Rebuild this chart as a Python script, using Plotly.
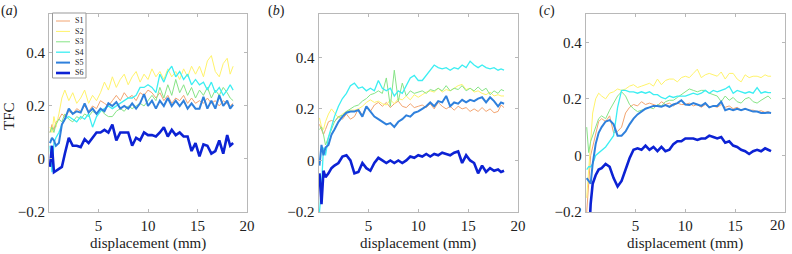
import plotly.graph_objects as go

# ---------------- data ----------------
displacement = [0.1, 0.3, 0.5, 0.7, 1.0, 1.3, 1.6, 2.0, 2.4, 2.8, 3.2, 3.6, 4.0, 4.4, 4.8,
                5.2, 5.6, 6.0, 6.4, 6.8, 7.2, 7.6, 8.0, 8.4, 8.8, 9.2, 9.6, 10.0, 10.4, 10.8,
                11.2, 11.6, 12.0, 12.4, 12.8, 13.2, 13.6, 14.0, 14.4, 14.8, 15.2, 15.6, 16.0,
                16.4, 16.8, 17.2, 17.6, 18.0, 18.3, 18.6]

series_names = ["S1", "S2", "S3", "S4", "S5", "S6"]

a_s1 = [0.10, 0.13, 0.11, 0.14, 0.15, 0.17, 0.16, 0.18, 0.17, 0.19, 0.18, 0.20, 0.18, 0.20, 0.19,
        0.22, 0.21, 0.20, 0.22, 0.24, 0.22, 0.25, 0.23, 0.24, 0.22, 0.25, 0.24, 0.26, 0.25, 0.23,
        0.25, 0.22, 0.24, 0.21, 0.23, 0.22, 0.24, 0.21, 0.23, 0.21, 0.22, 0.21, 0.23, 0.21, 0.22,
        0.20, 0.22, 0.21, 0.20, 0.21]
a_s2 = [0.12, 0.10, 0.16, 0.12, 0.17, 0.23, 0.26, 0.22, 0.25, 0.21, 0.23, 0.26, 0.21, 0.24, 0.22,
        0.25, 0.29, 0.26, 0.31, 0.27, 0.30, 0.32, 0.28, 0.31, 0.33, 0.29, 0.32, 0.30, 0.34, 0.31,
        0.33, 0.30, 0.34, 0.31, 0.33, 0.30, 0.34, 0.31, 0.35, 0.32, 0.35, 0.31, 0.37, 0.39, 0.33,
        0.31, 0.36, 0.38, 0.32, 0.35]
a_s3 = [0.10, 0.12, 0.10, 0.13, 0.15, 0.14, 0.17, 0.15, 0.14, 0.16, 0.15, 0.17, 0.16, 0.18, 0.17,
        0.19, 0.17, 0.16, 0.16, 0.18, 0.19, 0.18, 0.20, 0.19, 0.20, 0.21, 0.20, 0.22, 0.24, 0.22,
        0.27, 0.23, 0.28, 0.24, 0.30, 0.25, 0.28, 0.24, 0.27, 0.23, 0.26, 0.24, 0.27, 0.23, 0.26,
        0.24, 0.27, 0.25, 0.23, 0.22]
a_s4 = [0.05, -0.05, 0.06, 0.08, 0.10, 0.13, 0.15, 0.16, 0.15, 0.14, 0.16, 0.15, 0.17, 0.12, 0.16,
        0.18, 0.19, 0.20, 0.19, 0.20, 0.21, 0.22, 0.23, 0.23, 0.24, 0.27, 0.27, 0.28, 0.27, 0.25,
        0.32, 0.29, 0.33, 0.35, 0.31, 0.33, 0.30, 0.32, 0.28, 0.30, 0.28, 0.29, 0.26, 0.29, 0.25,
        0.27, 0.24, 0.26, 0.28, 0.26]
a_s5 = [0.06, 0.08, 0.07, 0.05, 0.06, 0.13, 0.15, 0.19, 0.17, 0.18, 0.175, 0.21, 0.175, 0.19, 0.17,
        0.19, 0.18, 0.21, 0.20, 0.215, 0.19, 0.20, 0.19, 0.21, 0.19, 0.21, 0.245, 0.20, 0.22, 0.19,
        0.22, 0.20, 0.23, 0.20, 0.22, 0.20, 0.22, 0.19, 0.21, 0.19, 0.19, 0.235, 0.19, 0.22, 0.19,
        0.24, 0.20, 0.22, 0.19, 0.205]
a_s6 = [-0.03, 0.05, -0.05, -0.045, -0.04, -0.03, 0.02, 0.08, 0.05, 0.05, 0.045, 0.075, 0.06, 0.08, 0.10,
        0.10, 0.11, 0.10, 0.13, 0.07, 0.10, 0.10, 0.10, 0.05, 0.08, 0.07, 0.10, 0.09, 0.09, 0.085,
        0.10, 0.12, 0.085, 0.11, 0.09, 0.10, 0.085, 0.085, 0.03, 0.06, 0.01, 0.055, 0.05, 0.02, 0.03,
        0.07, 0.02, 0.09, 0.05, 0.06]

b_s1 = [0.14, 0.12, 0.10, 0.12, 0.15, 0.155, 0.15, 0.17, 0.16, 0.18, 0.16, 0.17, 0.20, 0.175, 0.21,
        0.19, 0.215, 0.225, 0.21, 0.225, 0.205, 0.22, 0.23, 0.21, 0.205, 0.22, 0.205, 0.21, 0.215, 0.205,
        0.22, 0.20, 0.225, 0.21, 0.20, 0.21, 0.195, 0.21, 0.20, 0.205, 0.19, 0.20, 0.19, 0.205, 0.19,
        0.20, 0.185, 0.19, 0.215, 0.205]
b_s2 = [0.165, 0.13, 0.12, 0.15, 0.18, 0.20, 0.185, 0.165, 0.18, 0.19, 0.195, 0.195, 0.20, 0.21, 0.225,
        0.235, 0.225, 0.23, 0.22, 0.215, 0.235, 0.22, 0.24, 0.235, 0.25, 0.235, 0.255, 0.245, 0.255, 0.265,
        0.27, 0.265, 0.28, 0.265, 0.275, 0.27, 0.28, 0.29, 0.295, 0.275, 0.28, 0.265, 0.27, 0.26, 0.255,
        0.265, 0.25, 0.255, 0.25, 0.25]
b_s3 = [0.12, 0.13, 0.10, 0.06, 0.09, 0.12, 0.15, 0.17, 0.175, 0.19, 0.20, 0.21, 0.215, 0.23, 0.24,
        0.255, 0.26, 0.27, 0.26, 0.32, 0.21, 0.35, 0.23, 0.30, 0.25, 0.27, 0.26, 0.265, 0.27, 0.26,
        0.275, 0.27, 0.28, 0.27, 0.29, 0.27, 0.28, 0.275, 0.29, 0.27, 0.28, 0.27, 0.285, 0.27, 0.28,
        0.255, 0.27, 0.26, 0.275, 0.27]
b_s4 = [-0.2, -0.10, 0.05, 0.02, 0.09, 0.13, 0.17, 0.21, 0.24, 0.26, 0.29, 0.30, 0.28, 0.285, 0.27,
        0.28, 0.27, 0.31, 0.28, 0.27, 0.28, 0.25, 0.27, 0.26, 0.29, 0.32, 0.33, 0.31, 0.31, 0.33,
        0.35, 0.37, 0.36, 0.355, 0.36, 0.35, 0.36, 0.355, 0.37, 0.36, 0.385, 0.37, 0.36, 0.37, 0.36,
        0.355, 0.36, 0.35, 0.355, 0.35]
b_s5 = [-0.02, 0.06, 0.02, 0.05, 0.06, 0.10, 0.12, 0.15, 0.17, 0.185, 0.19, 0.19, 0.195, 0.17, 0.21,
        0.19, 0.17, 0.16, 0.15, 0.14, 0.145, 0.13, 0.15, 0.16, 0.175, 0.17, 0.185, 0.19, 0.20, 0.21,
        0.225, 0.21, 0.23, 0.225, 0.25, 0.21, 0.225, 0.22, 0.235, 0.225, 0.235, 0.23, 0.24, 0.245, 0.225,
        0.245, 0.23, 0.21, 0.225, 0.22]
b_s6 = [-0.05, -0.17, -0.04, -0.065, -0.05, -0.03, -0.02, -0.01, 0.015, 0.02, 0.0, -0.05, -0.045, -0.01, -0.03,
        -0.04, -0.01, 0.01, 0.0, -0.01, 0.0, -0.01, 0.0, -0.01, 0.0, 0.015, 0.01, 0.02, 0.015, 0.025,
        0.015, 0.025, 0.02, 0.03, 0.025, 0.02, 0.03, 0.035, -0.01, 0.02, 0.0, -0.01, -0.05, -0.02, -0.045,
        -0.03, -0.04, -0.035, -0.045, -0.04]

c_s1 = [-0.2, -0.08, 0.0, 0.03, 0.08, 0.12, 0.13, 0.12, 0.14, 0.08, 0.085, 0.10, 0.15, 0.17, 0.18,
        0.175, 0.19, 0.18, 0.185, 0.18, 0.175, 0.19, 0.18, 0.185, 0.175, 0.185, 0.18, 0.18, 0.185, 0.175,
        0.18, 0.17, 0.18, 0.17, 0.175, 0.17, 0.18, 0.17, 0.175, 0.165, 0.17, 0.16, 0.165, 0.16, 0.16,
        0.155, 0.158, 0.152, 0.155, 0.15]
c_s2 = [-0.15, -0.05, 0.05, 0.15, 0.20, 0.22, 0.21, 0.20, 0.22, 0.225, 0.235, 0.23, 0.235, 0.245, 0.25,
        0.24, 0.245, 0.25, 0.255, 0.245, 0.27, 0.25, 0.265, 0.27, 0.27, 0.26, 0.275, 0.28, 0.275, 0.29,
        0.305, 0.275, 0.285, 0.29, 0.285, 0.28, 0.295, 0.27, 0.29, 0.29, 0.27, 0.26, 0.285, 0.275, 0.28,
        0.28, 0.275, 0.285, 0.28, 0.28]
c_s3 = [0.10, 0.01, 0.05, 0.07, 0.10, 0.13, 0.14, 0.13, 0.16, 0.185, 0.21, 0.225, 0.21, 0.18, 0.165,
        0.155, 0.16, 0.165, 0.17, 0.165, 0.18, 0.175, 0.19, 0.195, 0.195, 0.205, 0.215, 0.225, 0.235, 0.23,
        0.225, 0.23, 0.23, 0.22, 0.215, 0.21, 0.19, 0.21, 0.195, 0.205, 0.19, 0.185, 0.20, 0.205, 0.19,
        0.185, 0.195, 0.205, 0.21, 0.20]
c_s4 = [-0.05, -0.04, -0.04, -0.03, 0.0, 0.01, 0.02, 0.03, 0.05, 0.07, 0.17, 0.23, 0.23, 0.225, 0.225,
        0.22, 0.225, 0.22, 0.225, 0.215, 0.215, 0.205, 0.20, 0.21, 0.205, 0.21, 0.21, 0.21, 0.215, 0.22,
        0.215, 0.22, 0.23, 0.22, 0.23, 0.225, 0.23, 0.235, 0.245, 0.22, 0.23, 0.225, 0.22, 0.225, 0.22,
        0.24, 0.22, 0.225, 0.222, 0.222]
c_s5 = [-0.08, -0.09, -0.10, -0.03, 0.04, 0.08, 0.10, 0.12, 0.125, 0.11, 0.07, 0.07, 0.085, 0.11, 0.13,
        0.145, 0.155, 0.165, 0.17, 0.175, 0.175, 0.172, 0.178, 0.172, 0.18, 0.185, 0.195, 0.18, 0.178, 0.185,
        0.18, 0.175, 0.185, 0.17, 0.175, 0.175, 0.19, 0.16, 0.165, 0.16, 0.165, 0.16, 0.165, 0.16, 0.155,
        0.155, 0.15, 0.15, 0.152, 0.15]
c_s6 = [-0.45, -0.3, -0.17, -0.10, -0.07, -0.05, -0.045, -0.03, -0.04, -0.08, -0.11, -0.09, -0.05, -0.01, 0.02,
        0.025, 0.02, 0.035, 0.02, 0.03, 0.015, 0.03, 0.015, 0.02, 0.04, 0.05, 0.05, 0.06, 0.06, 0.06,
        0.055, 0.06, 0.06, 0.07, 0.065, 0.06, 0.065, 0.045, 0.05, 0.035, 0.03, 0.02, 0.015, 0.005, 0.015,
        0.02, 0.015, 0.025, 0.02, 0.015]

y_tick_vals = [-0.2, 0, 0.2, 0.4]
y_tick_text = ["\u22120.2", "0", "0.2", "0.4"]
x_tick_vals = [5, 10, 15, 20]
x_tick_text = ["5", "10", "15", "20"]
panel_labels = ["(<i>a</i>)", "(<i>b</i>)", "(<i>c</i>)"]
x_title = "displacement (mm)"
y_title = "TFC"

# ---------------- style ----------------
W, H = 792, 254
colors = ["#f2a470", "#fff36a", "#86e486", "#3ceef2", "#2f80dc", "#0c22d4"]
widths = [1.0, 1.0, 1.0, 1.3, 2.0, 2.6]
FONT = "Liberation Serif"
TXT = "#222222"
BOX = "#b8b8b8"

# panel boxes in pixels (left, right), shared top/bottom
panel_px = [(49, 247), (318.5, 518), (585.7, 785)]
top_px, bot_px = 14, 212
y_ranges = [[-0.2, 0.547], [-0.2, 0.568], [-0.2, 0.5]]

panels = [
    [a_s1, a_s2, a_s3, a_s4, a_s5, a_s6],
    [b_s1, b_s2, b_s3, b_s4, b_s5, b_s6],
    [c_s1, c_s2, c_s3, c_s4, c_s5, c_s6],
]

def px(xp):
    return xp / W

def py(yp):
    return 1 - yp / H

fig = go.Figure()
layout = dict(
    width=W, height=H, autosize=False,
    margin=dict(l=0, r=0, t=0, b=0),
    paper_bgcolor="white", plot_bgcolor="white",
    showlegend=False,
    font=dict(family=FONT, size=15, color=TXT),
)

annotations = []
shapes = []
for i, series in enumerate(panels):
    xa = "x" if i == 0 else f"x{i+1}"
    ya = "y" if i == 0 else f"y{i+1}"
    for j, vals in enumerate(series):
        fig.add_trace(go.Scatter(
            x=displacement, y=vals, mode="lines", name=series_names[j],
            line=dict(color=colors[j], width=widths[j]),
            xaxis=xa, yaxis=ya, hoverinfo="skip",
        ))
    l, r = panel_px[i]
    axkey = "xaxis" if i == 0 else f"xaxis{i+1}"
    aykey = "yaxis" if i == 0 else f"yaxis{i+1}"
    last_panel = (i == len(panels) - 1)
    # the rightmost panel's last tick label sits at the page edge: draw it as
    # an annotation right-aligned to the axis end so it is not dropped
    tv = x_tick_vals[:-1] if last_panel else x_tick_vals
    tt = x_tick_text[:-1] if last_panel else x_tick_text
    layout[axkey] = dict(
        domain=[px(l), px(r)], range=[0, 20], anchor=ya,
        tickmode="array", tickvals=tv, ticktext=tt,
        ticks="inside", ticklen=3, tickcolor=BOX, tickwidth=1,
        showline=True, linecolor=BOX, linewidth=1, mirror="allticks",
        showgrid=False, zeroline=False, automargin=False,
        tickfont=dict(family=FONT, size=15, color=TXT),
    )
    layout[aykey] = dict(
        domain=[py(bot_px), py(top_px)], range=y_ranges[i], anchor=xa,
        tickmode="array", tickvals=y_tick_vals, ticktext=y_tick_text,
        ticks="inside", ticklen=3, tickcolor=BOX, tickwidth=1,
        showline=True, linecolor=BOX, linewidth=1, mirror="allticks",
        showgrid=False, zeroline=False, automargin=False,
        tickfont=dict(family=FONT, size=15, color=TXT),
    )
    if last_panel:
        annotations.append(dict(
            text=x_tick_text[-1], xref=xa, yref="paper",
            x=x_tick_vals[-1], y=py(225), xanchor="right", yanchor="middle",
            xshift=2, showarrow=False, font=dict(family=FONT, size=15, color=TXT),
        ))
    # x axis title
    annotations.append(dict(
        text=x_title, xref="paper", yref="paper",
        x=px((l + r) / 2), y=py(243), xanchor="center", yanchor="middle",
        showarrow=False, font=dict(family=FONT, size=15, color=TXT),
    ))

# panel labels
for lab, xp in zip(panel_labels, [9, 276, 547]):
    annotations.append(dict(
        text=lab, xref="paper", yref="paper", x=px(xp), y=py(11),
        xanchor="center", yanchor="middle", showarrow=False,
        font=dict(family=FONT, size=14, color=TXT),
    ))

# y title
annotations.append(dict(
    text=y_title, xref="paper", yref="paper", x=px(9), y=py(116),
    xanchor="center", yanchor="middle", showarrow=False, textangle=-90,
    font=dict(family=FONT, size=15, color=TXT),
))

# legend (panel a)
leg_l, leg_r, leg_t, leg_b = 52.5, 86, 13, 78
shapes.append(dict(type="rect", xref="paper", yref="paper",
                   x0=px(leg_l), x1=px(leg_r), y0=py(leg_b), y1=py(leg_t),
                   line=dict(color="#999999", width=1), fillcolor="white", layer="above"))
for j, name in enumerate(series_names):
    yy = 21 + j * 10.4
    shapes.append(dict(type="line", xref="paper", yref="paper",
                       x0=px(56), x1=px(70), y0=py(yy), y1=py(yy),
                       line=dict(color=colors[j], width=widths[j]), layer="above"))
    annotations.append(dict(
        text=name, xref="paper", yref="paper", x=px(73), y=py(yy),
        xanchor="left", yanchor="middle", showarrow=False,
        font=dict(family=FONT, size=8, color=TXT),
    ))

layout["annotations"] = annotations
layout["shapes"] = shapes
fig.update_layout(**layout)
fig.write_html(
    "out.html",
    config={"displayModeBar": False, "staticPlot": True},
    post_script="document.body.style.margin='0';document.body.style.overflow='hidden';",
)
